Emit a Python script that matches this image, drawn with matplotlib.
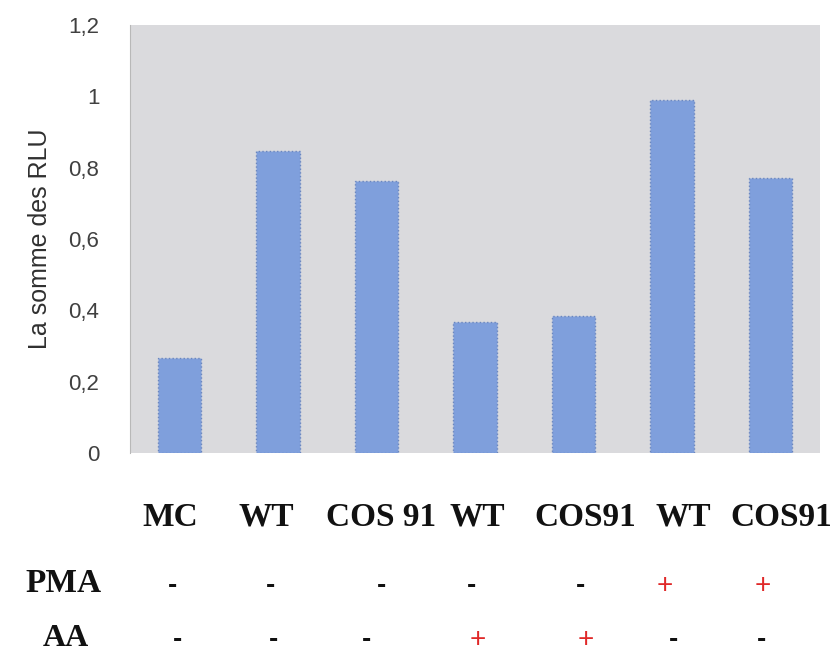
import numpy as np
import matplotlib
matplotlib.use('Agg')
import matplotlib.pyplot as plt
import matplotlib.transforms as mtransforms

# Data
categories = ['MC', 'WT', 'COS 91', 'WT', 'COS91', 'WT', 'COS91']
rlu_sum = [0.266, 0.847, 0.763, 0.367, 0.384, 0.990, 0.771]
pma = ['-', '-', '-', '-', '-', '+', '+']
aa = ['-', '-', '-', '+', '+', '-', '-']
y_ticks = [0, 0.2, 0.4, 0.6, 0.8, 1.0, 1.2]

# small horizontal nudges of the text rows (layout only)
label_shift = [-0.09, -0.12, 0.05, 0.02, 0.12, 0.11, 0.11]
pma_shift = [-0.07, -0.07, 0.05, -0.04, 0.07, -0.08, -0.08]
aa_shift = [-0.02, -0.04, -0.10, 0.03, 0.12, 0.01, -0.09]

bar_color = '#7f9fdc'
bg_color = '#dadadd'
serif = ['Liberation Serif', 'DejaVu Serif']

fig = plt.figure(figsize=(8.39, 6.56), dpi=100)
ax = fig.add_axes([130/839, 203/656, 690/839, 428/656])
ax.set_facecolor(bg_color)

x = np.arange(len(categories))
ax.bar(x, rlu_sum, width=0.44, color=bar_color,
       edgecolor='#6a86bf', linewidth=1.0, linestyle=':')

ax.set_xlim(-0.5, len(categories) - 0.5)
ax.set_ylim(0, 1.2)
ax.set_yticks(y_ticks)
ax.set_yticklabels([('%g' % v).replace('.', ',') for v in y_ticks],
                   fontsize=16, color='#404040', family='Liberation Sans')
ax.tick_params(axis='y', length=0, pad=22)
ax.set_xticks([])
for side in ['top', 'right', 'bottom']:
    ax.spines[side].set_visible(False)
ax.spines['left'].set_color('#b8b8b8')

ax.set_ylabel('La somme des RLU', fontsize=18, color='#303030',
              family='Liberation Sans', labelpad=12)

# text rows under the chart: x in data units, y in figure fraction
trans = mtransforms.blended_transform_factory(ax.transData, fig.transFigure)

for i, lab in enumerate(categories):
    ax.text(x[i] + label_shift[i], 1 - 517/656, lab, transform=trans,
            ha='center', va='center', fontsize=24, fontweight='bold',
            family=serif, color='#111111', clip_on=False)

for i, s in enumerate(pma):
    col = '#e02828' if s == '+' else '#111111'
    ax.text(x[i] + pma_shift[i], 1 - 586/656, s, transform=trans,
            ha='center', va='center', fontsize=20,
            fontweight='normal' if s == '+' else 'bold',
            family=['Liberation Sans'], color=col, clip_on=False)

for i, s in enumerate(aa):
    col = '#e02828' if s == '+' else '#111111'
    ax.text(x[i] + aa_shift[i], 1 - 640/656, s, transform=trans,
            ha='center', va='center', fontsize=20,
            fontweight='normal' if s == '+' else 'bold',
            family=['Liberation Sans'], color=col, clip_on=False)

fig.text(64/839, 1 - 584/656, 'PMA', ha='center', va='center',
         fontsize=24, fontweight='bold', family=serif, color='#111111')
fig.text(66/839, 1 - 639/656, 'AA', ha='center', va='center',
         fontsize=23, fontweight='bold', family=serif, color='#111111')

fig.savefig('out.png', dpi=100, facecolor='white')
